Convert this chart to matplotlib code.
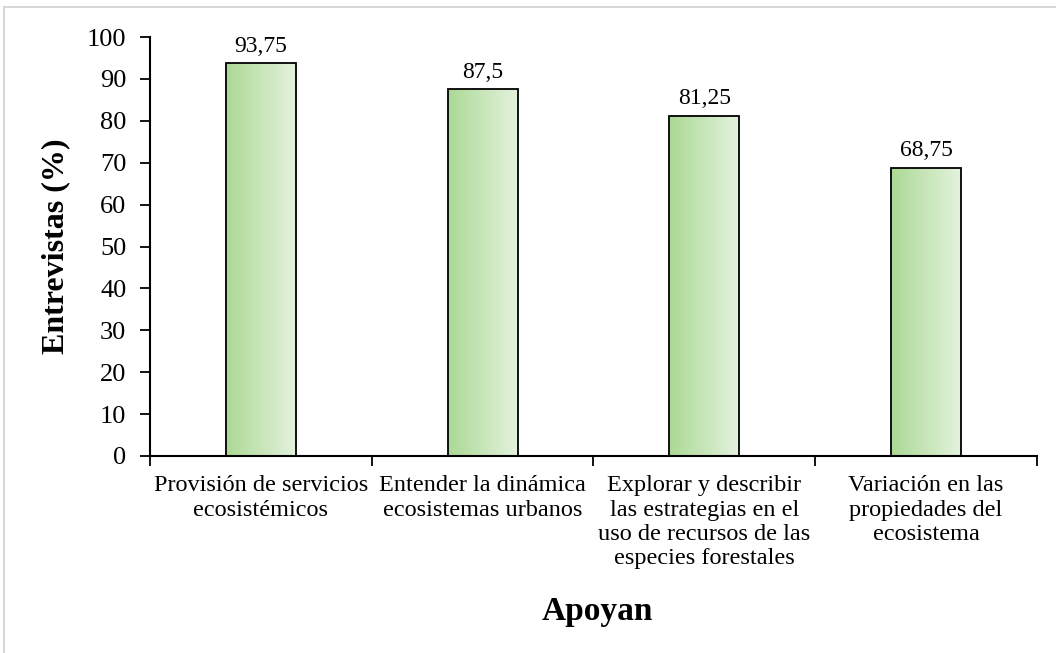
import numpy as np
import matplotlib.pyplot as plt
from matplotlib.patches import Rectangle
from matplotlib.colors import LinearSegmentedColormap

categorias = ['Provisión de servicios\necosistémicos',
              'Entender la dinámica\necosistemas urbanos',
              'Explorar y describir\nlas estrategias en el\nuso de recursos de las\nespecies forestales',
              'Variación en las\npropiedades del\necosistema']
valores = [93.75, 87.5, 81.25, 68.75]
etiquetas = ['93,75', '87,5', '81,25', '68,75']

plt.rcParams['font.family'] = ['Liberation Serif', 'DejaVu Serif']

fig = plt.figure(figsize=(10.56, 6.53), dpi=100)
ax = fig.add_axes([0.142, 0.3017, 0.840, 0.6416])

verde = LinearSegmentedColormap.from_list('verde', ['#abd995', '#e4f2dd'])
grad = np.linspace(0, 1, 256).reshape(1, -1)

x = np.arange(len(valores))
ancho = 0.315
barras = ax.bar(x, valores, width=ancho, facecolor='none', edgecolor='black',
                linewidth=1.3, zorder=3)
for b in barras:
    im = ax.imshow(grad, cmap=verde, aspect='auto', zorder=2,
                   extent=[b.get_x(), b.get_x() + b.get_width(), 0, b.get_height()])
    im.set_clip_path(b)

for xi, v, t in zip(x, valores, etiquetas):
    ax.text(xi, v + 1.6, t, ha='center', va='bottom', fontsize=17)

ax.set_xlim(-0.5, len(valores) - 0.5)
ax.set_ylim(0, 100)
ax.set_yticks(np.arange(0, 101, 10))
ax.set_xticks(np.arange(-0.5, len(valores), 1.0))
ax.set_xticklabels([])
ax.set_xticks(x, minor=True)
ax.set_xticklabels(categorias, minor=True, fontsize=17.5, linespacing=1.2)
ax.tick_params(axis='x', which='minor', length=0, pad=14)
ax.tick_params(axis='x', which='major', length=7, width=1.3, direction='out')
ax.tick_params(axis='y', length=7, width=1.3, labelsize=19, direction='out', pad=10)

for s in ['top', 'right']:
    ax.spines[s].set_visible(False)
for s in ['left', 'bottom']:
    ax.spines[s].set_linewidth(1.5)

ax.set_ylabel('Entrevistas (%)', fontsize=23, fontweight='bold')
ax.yaxis.set_label_coords(-0.090, 0.5)
fig.text(0.5657, 0.063, 'Apoyan', ha='center', va='center', fontsize=24, fontweight='bold')

fig.add_artist(Rectangle((0.004, -0.1), 1.2, 1.089, transform=fig.transFigure,
                         fill=False, edgecolor='#d0d0d0', linewidth=1.2))

fig.savefig('out.png', dpi=100)
